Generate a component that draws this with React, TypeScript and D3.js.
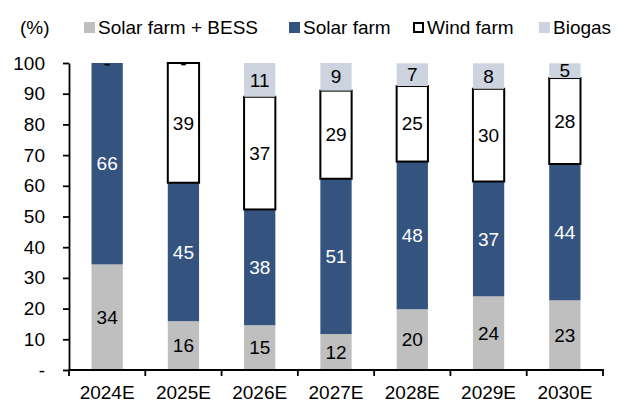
import React, { useEffect, useRef } from 'react';
import * as d3 from 'd3';

const years = ['2024E', '2025E', '2026E', '2027E', '2028E', '2029E', '2030E'];
const solarBess = [34.4, 15.9, 14.6, 11.7, 19.8, 24.0, 22.7];
const solar = [65.6, 45.1, 37.7, 50.6, 48.1, 37.4, 44.4];
const wind = [0, 39.0, 36.7, 28.7, 24.6, 30.2, 28.0];
const biogas = [0, 0, 11.0, 9.0, 7.4, 8.3, 4.8];
const yTicks = [0, 10, 20, 30, 40, 50, 60, 70, 80, 90, 100];

const seriesNames = ['Solar farm + BESS', 'Solar farm', 'Wind farm', 'Biogas'];
const seriesValues = [solarBess, solar, wind, biogas];
const fills = ['#bfbfbf', '#34537f', '#ffffff', '#cdd3df'];
const labelColors = ['#000', '#fff', '#000', '#000'];
const legendX = [84, 289, 413, 539];

const App = () => {
  const ref = useRef<SVGSVGElement>(null);

  useEffect(() => {
    const svg = d3.select(ref.current);
    svg.selectAll('*').remove();
    const font = 'Liberation Sans, Arial, sans-serif';
    const fs = 19;

    const x = d3.scaleBand().domain(years).range([69, 603]);
    const y = d3.scaleLinear().domain([0, 100]).range([370, 63]);
    const barW = x.bandwidth() * 0.41;

    const rows = years.map((yr, i) => {
      const r: any = { year: yr };
      seriesNames.forEach((s, k) => (r[s] = seriesValues[k][i]));
      return r;
    });
    const stacked = d3.stack().keys(seriesNames)(rows);

    stacked.forEach((layer, k) => {
      const g = svg.append('g');
      g.selectAll('rect')
        .data(layer.filter(d => d[1] - d[0] > 0))
        .join('rect')
        .attr('x', (d: any) => x(d.data.year)! + (x.bandwidth() - barW) / 2)
        .attr('y', d => y(d[1]))
        .attr('width', barW)
        .attr('height', d => y(d[0]) - y(d[1]))
        .attr('fill', fills[k])
        .attr('stroke', k === 2 ? '#000' : 'none')
        .attr('stroke-width', k === 2 ? 2 : 0);
    });

    // data labels (zero shown as "-")
    stacked.forEach((layer, k) => {
      svg.append('g')
        .selectAll('text')
        .data(layer)
        .join('text')
        .attr('x', (d: any) => x(d.data.year)! + x.bandwidth() / 2)
        .attr('y', d => y((d[0] + d[1]) / 2))
        .attr('dy', '0.35em')
        .attr('text-anchor', 'middle')
        .attr('font-family', font)
        .attr('font-size', fs)
        .attr('fill', (d: any) => (d[1] - d[0] === 0 ? '#000' : labelColors[k]))
        .text(d => (d[1] - d[0] === 0 ? '-' : String(Math.round(d[1] - d[0]))));
    });

    // y axis
    const yAxis = svg.append('g')
      .attr('transform', 'translate(69,0)')
      .call(d3.axisLeft(y).tickValues(yTicks).tickSize(6).tickSizeOuter(0).tickFormat(d => (d === 0 ? '-' : String(d))));
    yAxis.select('.domain').attr('stroke', '#000').attr('stroke-width', 1.8);
    yAxis.selectAll('line').attr('stroke', '#000').attr('stroke-width', 1.8);
    yAxis.selectAll('text').attr('font-family', font).attr('font-size', fs).attr('fill', '#000').attr('x', -24);

    // x axis
    const xAxis = svg.append('g').attr('transform', 'translate(0,370)');
    xAxis.append('line').attr('x1', 68).attr('x2', 604).attr('stroke', '#000').attr('stroke-width', 1.8);
    const bounds = years.map(yr => x(yr)!).concat([x(years[years.length - 1])! + x.bandwidth()]);
    xAxis.selectAll('line.tick')
      .data(bounds)
      .join('line')
      .attr('class', 'tick')
      .attr('x1', d => d).attr('x2', d => d)
      .attr('y1', 0).attr('y2', 6)
      .attr('stroke', '#000').attr('stroke-width', 1.8);
    xAxis.selectAll('text')
      .data(years)
      .join('text')
      .attr('x', d => x(d)! + x.bandwidth() / 2)
      .attr('y', 29)
      .attr('text-anchor', 'middle')
      .attr('font-family', font)
      .attr('font-size', fs)
      .text(d => d);

    // legend
    const leg = svg.append('g').attr('font-family', font).attr('font-size', fs);
    leg.append('text').attr('x', 20).attr('y', 34).text('(%)');
    seriesNames.forEach((s, k) => {
      leg.append('rect')
        .attr('x', k === 2 ? legendX[k] + 1 : legendX[k]).attr('y', k === 2 ? 23 : 22)
        .attr('width', k === 2 ? 9 : 11).attr('height', k === 2 ? 9 : 11)
        .attr('fill', fills[k])
        .attr('stroke', k === 2 ? '#000' : 'none')
        .attr('stroke-width', k === 2 ? 2 : 0);
      leg.append('text').attr('x', legendX[k] + 14).attr('y', 34).text(s);
    });
  }, []);

  return <svg ref={ref} width={626} height={403} style={{ display: 'block', position: 'absolute', left: 0, top: 0 }} />;
};

export default App;
